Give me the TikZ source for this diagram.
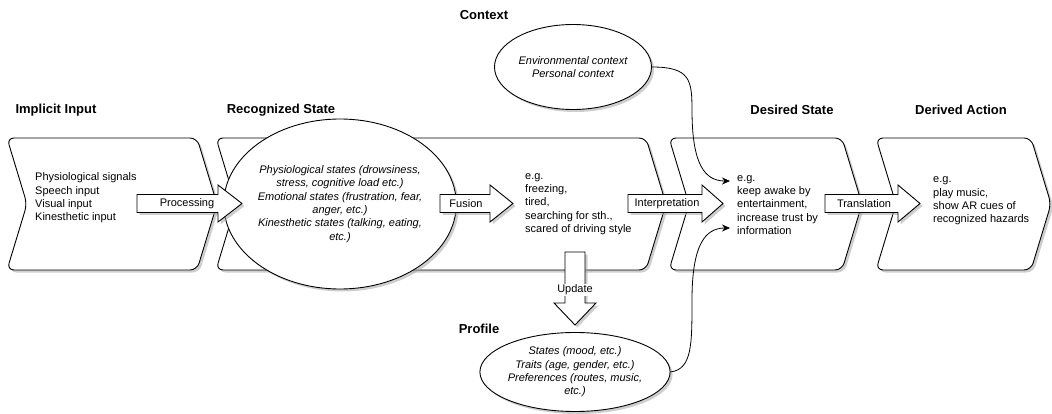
\documentclass[tikz,border=0pt]{standalone}
\usepackage{fontspec}
\setmainfont{Liberation Sans}
\usetikzlibrary{shadows,arrows.meta,shapes.geometric}
\newcommand\stepshape[2]{%
  \draw[stepbox] (#1,138) -- (#2,138) -- (#2+20,204) -- (#2,270) -- (#1,270) -- (#1+20,204) -- cycle;}
\newcommand\harrow[3]{%
  \draw[blk] (#1,194.5) -- (#2,194.5) -- (#2,185) -- (#3,203.5) -- (#2,222) -- (#2,212.5) -- (#1,212.5) -- cycle;}
\begin{document}
\begin{tikzpicture}[x=1pt,y=-1pt,
  shadowed/.style={drop shadow={shadow xshift=2.5pt,shadow yshift=-2.5pt,fill=black!35,opacity=0.55}},
  stepbox/.style={draw=black,fill=white,line width=0.9pt,rounded corners=7pt,shadowed},
  blk/.style={draw=black,fill=white,line width=0.9pt,shadowed},
  ell/.style={ellipse,draw=black,fill=white,line width=0.9pt,inner sep=0pt,shadowed,
     font=\fontsize{11}{13.3}\selectfont\itshape,align=center},
  txt/.style={font=\fontsize{11}{13.3}\selectfont,align=left,inner sep=0pt,anchor=west},
  lbl/.style={font=\fontsize{11}{13}\selectfont,inner sep=0pt},
  hdr/.style={font=\fontsize{13}{15}\selectfont\bfseries,inner sep=0pt},
  conn/.style={draw=black,line width=0.8pt,-{Stealth[length=8pt,width=7pt]}}]
\useasboundingbox (0,0) rectangle (1052,414);
% step boxes
\stepshape{7}{197}
\stepshape{216}{646}
\stepshape{669}{842}
\stepshape{876}{1031}
% headers
\node[hdr] (hImp) at (56,110) {Implicit Input};
\node[hdr] (hRec) at (281,110) {Recognized State};
\node[hdr] (hDes) at (792,110) {Desired State};
\node[hdr] (hDer) at (961,110) {Derived Action};
\node[hdr] (hCtx) at (484,15) {Context};
\node[hdr] (hPrf) at (479,329) {Profile};
% texts in boxes
\node[txt] (tImp) at (35,198) {Physiological signals\\Speech input\\Visual input\\Kinesthetic input};
\node[txt] (tRec) at (525,204) {e.g.\\freezing,\\tired,\\searching for sth.,\\scared of driving style};
\node[txt] (tDes) at (737,205) {e.g.\\keep awake by\\entertainment,\\increase trust by\\information};
\node[txt] (tDer) at (933,201) {e.g.\\play music,\\show AR cues of\\recognized hazards};
% ellipses
\node[ell,minimum width=196pt,minimum height=170pt] (rs) at (340,204)
  {Physiological states (drowsiness,\\stress, cognitive load etc.)\\Emotional states (frustration, fear,\\anger, etc.)\\Kinesthetic states (talking, eating,\\etc.)};
\node[ell,minimum width=157pt,minimum height=85pt] (ctx) at (573,67)
  {Environmental context\\Personal context};
\node[ell,minimum width=160pt,minimum height=79pt] (prf) at (575,372)
  {States (mood, etc.)\\Traits (age, gender, etc.)\\Preferences (routes, music,\\etc.)};
% block arrows
\harrow{137}{218}{242}
\node[lbl] (aProc) at (187,203.5) {Processing};
\harrow{440}{490}{513}
\node[lbl] (aFus) at (466,203.5) {Fusion};
\harrow{628}{702}{723}
\node[lbl] (aInt) at (667,203.5) {Interpretation};
\harrow{825}{898}{920}
\node[lbl] (aTra) at (864,203.5) {Translation};
\draw[blk] (565,252) -- (565,303) -- (554,303) -- (575,325) -- (596,303) -- (585,303) -- (585,252) -- cycle;
\node[lbl,fill=white,inner sep=1pt] (aUpd) at (575,290) {Update};
% curved connectors
\coordinate (ctxin) at (730,181);
\coordinate (prfin) at (730,228);
\draw[conn] (ctx.east) .. controls (690,67) and (692,80) .. (692,110) .. controls (692,165) and (705,181) .. (ctxin);
\draw[conn] (prf.east) .. controls (692,369) and (692,345) .. (692,300) .. controls (692,245) and (705,228) .. (prfin);
\end{tikzpicture}
\end{document}
